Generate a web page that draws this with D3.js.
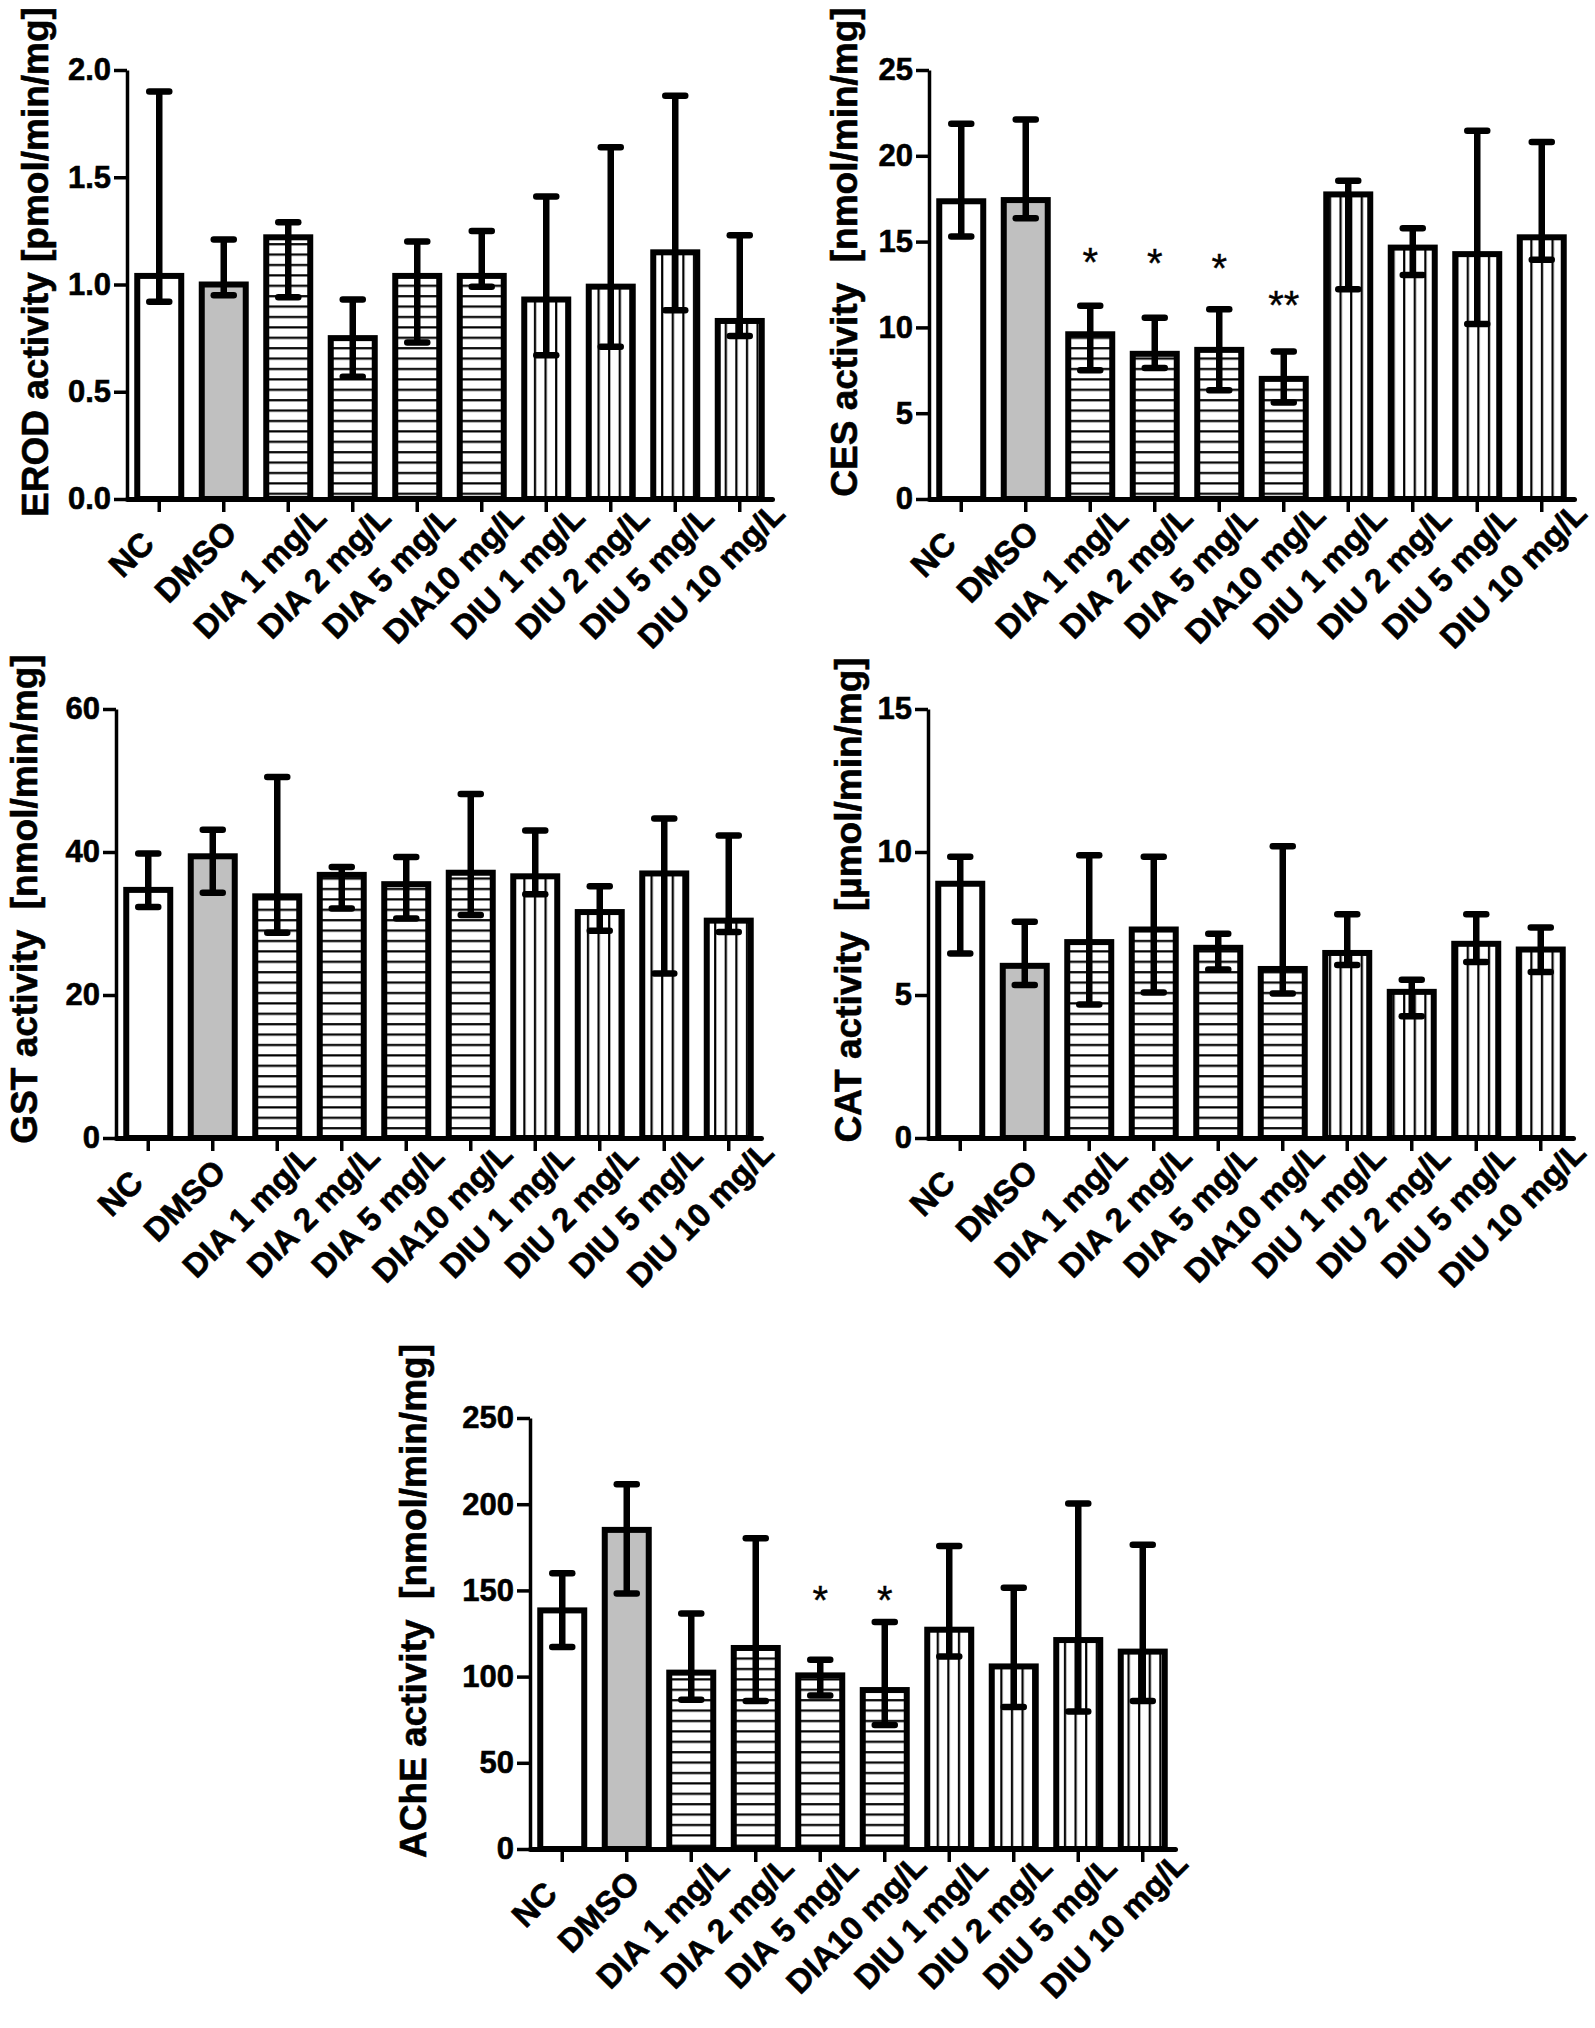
<!DOCTYPE html>
<html>
<head>
<meta charset="utf-8">
<script src="https://cdn.jsdelivr.net/npm/d3@7"></script>
<style>
  html, body { margin: 0; padding: 0; background: #fff; }
  svg { display: block; }
  text { font-family: "Liberation Sans", Arial, sans-serif; }
</style>
</head>
<body>
<div id="chart"></div>
<script>
// ---------------- DATA ----------------
const categories = ["NC", "DMSO", "DIA 1 mg/L", "DIA 2 mg/L", "DIA 5 mg/L", "DIA10 mg/L",
                    "DIU 1 mg/L", "DIU 2 mg/L", "DIU 5 mg/L", "DIU 10 mg/L"];
const groups = ["NC", "DMSO", "DIA", "DIA", "DIA", "DIA", "DIU", "DIU", "DIU", "DIU"];

const erodMean  = [1.04, 1.00, 1.22, 0.75, 1.04, 1.04, 0.93, 0.99, 1.15, 0.83];
const erodUpper = [1.90, 1.21, 1.29, 0.93, 1.20, 1.25, 1.41, 1.64, 1.88, 1.23];
const erodLower = [0.92, 0.95, 0.94, 0.57, 0.73, 0.99, 0.67, 0.71, 0.88, 0.76];
const erodTicks = [0, 0.5, 1.0, 1.5, 2.0];

const cesMean  = [17.35, 17.42, 9.60, 8.46, 8.69, 7.00, 17.75, 14.65, 14.27, 15.25];
const cesUpper = [21.87, 22.12, 11.26, 10.56, 11.06, 8.59, 18.54, 15.78, 21.46, 20.81];
const cesLower = [15.30, 16.36, 7.50, 7.63, 6.34, 5.63, 12.22, 13.06, 10.20, 13.94];
const cesSig   = ["", "", "*", "*", "*", "**", "", "", "", ""];
const cesSigAt = [null, null, 14.3, 14.2, 13.9, 11.8, null, null, null, null];
const cesTicks = [0, 5, 10, 15, 20, 25];

const gstMean  = [34.7, 39.4, 33.8, 36.8, 35.5, 37.1, 36.6, 31.6, 37.0, 30.4];
const gstUpper = [39.8, 43.1, 50.5, 37.9, 39.3, 48.1, 43.0, 35.2, 44.7, 42.3];
const gstLower = [32.3, 34.3, 28.7, 32.1, 30.7, 31.2, 34.1, 29.0, 23.0, 28.8];
const gstTicks = [0, 20, 40, 60];

const catMean  = [8.89, 6.02, 6.85, 7.29, 6.65, 5.91, 6.47, 5.11, 6.79, 6.59];
const catUpper = [9.83, 7.56, 9.89, 9.83, 7.14, 10.20, 7.82, 5.53, 7.82, 7.36];
const catLower = [6.45, 5.35, 4.67, 5.09, 5.89, 5.05, 6.05, 4.26, 6.15, 5.80];
const catTicks = [0, 5, 10, 15];

const acheMean  = [138.4, 185.1, 102.3, 116.6, 100.7, 92.2, 127.2, 105.9, 121.2, 114.5];
const acheUpper = [159.9, 211.6, 136.6, 180.2, 109.8, 131.6, 175.8, 151.6, 200.4, 176.5];
const acheLower = [117.1, 148.2, 86.5, 85.9, 89.0, 71.9, 111.6, 82.3, 79.7, 85.9];
const acheSig   = ["", "", "", "", "*", "*", "", "", "", ""];
const acheSigAt = [null, null, null, null, 148.8, 148.8, null, null, null, null];
const acheTicks = [0, 50, 100, 150, 200, 250];

const titles = ["EROD activity [pmol/min/mg]", "CES activity  [nmol/min/mg]",
                "GST activity  [nmol/min/mg]", "CAT activity  [\u00b5mol/min/mg]",
                "AChE activity  [nmol/min/mg]"];

// ---------------- LAYOUT ----------------
const W = 1595, H = 2028;
const svg = d3.select("#chart").append("svg").attr("width", W).attr("height", H);

const defs = svg.append("defs");
const hp = defs.append("pattern").attr("id", "hatchH").attr("patternUnits", "userSpaceOnUse")
  .attr("width", 20).attr("height", 10.4);
hp.append("rect").attr("width", 20).attr("height", 10.4).attr("fill", "#fff");
hp.append("line").attr("x1", 0).attr("x2", 20).attr("y1", 5).attr("y2", 5)
  .attr("stroke", "#000").attr("stroke-width", 2.2);
const vp = defs.append("pattern").attr("id", "hatchV").attr("patternUnits", "userSpaceOnUse")
  .attr("width", 10.6).attr("height", 20);
vp.append("rect").attr("width", 10.6).attr("height", 20).attr("fill", "#fff");
vp.append("line").attr("y1", 0).attr("y2", 20).attr("x1", 5).attr("x2", 5)
  .attr("stroke", "#000").attr("stroke-width", 2.2);

const fillFor = { NC: "#ffffff", DMSO: "#c0c0c0", DIA: "url(#hatchH)", DIU: "url(#hatchV)" };

const panels = [
  { mean: erodMean, upper: erodUpper, lower: erodLower, ticks: erodTicks, fmt: d3.format(".1f"),
    title: titles[0], ax: 127, top: 70, bottom: 499, tx: 48, ty: 262 },
  { mean: cesMean, upper: cesUpper, lower: cesLower, ticks: cesTicks, fmt: d3.format("d"),
    sig: cesSig, sigAt: cesSigAt,
    title: titles[1], ax: 929, top: 70, bottom: 499, tx: 857, ty: 252 },
  { mean: gstMean, upper: gstUpper, lower: gstLower, ticks: gstTicks, fmt: d3.format("d"),
    title: titles[2], ax: 116, top: 709, bottom: 1138, tx: 37, ty: 899 },
  { mean: catMean, upper: catUpper, lower: catLower, ticks: catTicks, fmt: d3.format("d"),
    title: titles[3], ax: 928, top: 709, bottom: 1138, tx: 861, ty: 900 },
  { mean: acheMean, upper: acheUpper, lower: acheLower, ticks: acheTicks, fmt: d3.format("d"),
    sig: acheSig, sigAt: acheSigAt,
    title: titles[4], ax: 530, top: 1418, bottom: 1849, tx: 426, ty: 1601 }
];

const axisW = 645;

panels.forEach(p => {
  const g = svg.append("g");
  const x = d3.scaleBand().domain(categories).range([p.ax, p.ax + axisW])
    .paddingInner(0.318).paddingOuter(0.159);
  const y = d3.scaleLinear().domain([0, d3.max(p.ticks)]).range([p.bottom, p.top]);
  const cx = d => x(d) + x.bandwidth() / 2;

  // bars
  g.selectAll("rect.bar").data(categories).join("rect")
    .attr("class", "bar")
    .attr("x", d => x(d))
    .attr("width", x.bandwidth())
    .attr("y", (d, i) => y(p.mean[i]))
    .attr("height", (d, i) => y(0) - y(p.mean[i]))
    .attr("fill", (d, i) => fillFor[groups[i]])
    .attr("stroke", "#000").attr("stroke-width", 6);

  // error bars
  const eb = g.selectAll("g.eb").data(categories).join("g").attr("class", "eb")
    .attr("stroke", "#000").attr("stroke-width", 6.5).attr("stroke-linecap", "round");
  eb.append("line")
    .attr("x1", cx).attr("x2", cx)
    .attr("y1", (d, i) => y(p.upper[i])).attr("y2", (d, i) => y(p.lower[i]))
    .attr("stroke-linecap", "butt");
  [p.upper, p.lower].forEach(arr => {
    eb.append("line")
      .attr("x1", d => cx(d) - 10).attr("x2", d => cx(d) + 10)
      .attr("y1", (d, i) => y(arr[i])).attr("y2", (d, i) => y(arr[i]));
  });

  // y axis
  const ya = g.append("g").attr("transform", `translate(${p.ax},0)`)
    .call(d3.axisLeft(y).tickValues(p.ticks).tickFormat(p.fmt).tickSize(13).tickSizeOuter(0).tickPadding(3));
  ya.select(".domain").attr("stroke-width", 3.5);
  ya.selectAll(".tick line").attr("stroke-width", 3.5);
  ya.selectAll(".tick text").attr("font-size", 31).attr("font-weight", "bold")
    .attr("fill", "#000").attr("stroke", "#000").attr("stroke-width", 0.6)
    .attr("font-family", "Liberation Sans, Arial, sans-serif");

  // x axis
  const xa = g.append("g").attr("transform", `translate(0,${p.bottom})`)
    .call(d3.axisBottom(x).tickSize(13).tickSizeOuter(0).tickFormat(""));
  xa.select(".domain").attr("stroke-width", 5).attr("stroke-linecap", "round");
  xa.selectAll(".tick line").attr("stroke-width", 3.5);

  // x labels (rotated 45°, end placed according to the label length as in the original layout)
  g.selectAll("text.xl").data(categories).join("text")
    .attr("class", "xl")
    .attr("text-anchor", "end")
    .attr("font-size", 33).attr("font-weight", "bold")
    .attr("stroke", "#000").attr("stroke-width", 0.6)
    .text(d => d)
    .each(function (d) {
      const L = this.getComputedTextLength();
      const ex = cx(d) - 3 + 0.35 * (L - 48);
      const ey = p.bottom + 46.5 - 0.21 * (L - 48);
      d3.select(this).attr("transform", `translate(${ex},${ey}) rotate(-45)`);
    });

  // significance
  if (p.sig) {
    const sigIdx = categories.map((c, i) => i).filter(i => p.sig[i]);
    g.selectAll("text.sig").data(sigIdx).join("text")
      .attr("class", "sig")
      .attr("text-anchor", "middle")
      .attr("font-size", 40)
      .attr("stroke", "#000").attr("stroke-width", 0.4)
      .attr("x", i => cx(categories[i]))
      .attr("y", i => y(p.sigAt[i]) + 22)
      .text(i => p.sig[i]);
  }

  // y title
  g.append("text")
    .attr("transform", `translate(${p.tx},${p.ty}) rotate(-90)`)
    .attr("text-anchor", "middle")
    .attr("font-size", 37).attr("font-weight", "bold")
    .attr("stroke", "#000").attr("stroke-width", 0.6)
    .style("white-space", "pre")
    .text(p.title);
});
</script>
</body>
</html>
